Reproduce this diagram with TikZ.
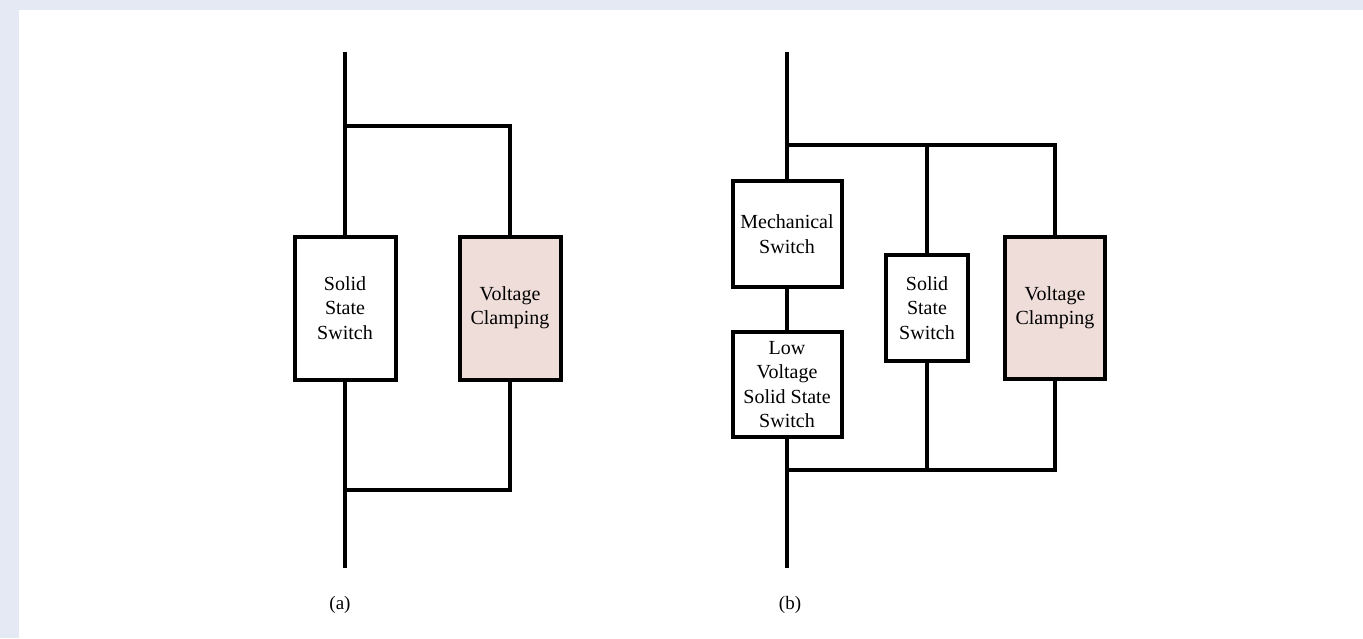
\documentclass[tikz,border=0pt]{standalone}
\usepackage{fontspec}
\setmainfont{Liberation Serif}
\definecolor{bgstrip}{RGB}{228,233,244}
\definecolor{clampfill}{RGB}{238,221,217}
\begin{document}
\begin{tikzpicture}[
    x=0.5pt, y=-0.5pt,
    wire/.style={line width=2pt},
    branch/.style={wire, line cap=rect},
    swbox/.style={draw, line width=2pt, fill=white, align=center,
        inner sep=1pt, font=\fontsize{10}{12.2}\selectfont},
    clampbox/.style={swbox, fill=clampfill},
    caption/.style={font=\fontsize{9.5}{11}\selectfont}
]
% Page and margins
\fill[bgstrip] (0,0) rectangle (1363,638);
\fill[white] (19,10) rectangle (1363,638);
\useasboundingbox (0,0) rectangle (1363,638);

% (a) wiring
\coordinate (atop) at (345,52);
\coordinate (aj1) at (345,126);
\coordinate (aj2) at (345,490);
\coordinate (abot) at (345,568);

% (a) blocks
\node[swbox, minimum width=101*0.5pt, minimum height=143*0.5pt] (sa) at (345,308) {Solid\\State\\Switch};
\node[clampbox, minimum width=101*0.5pt, minimum height=143*0.5pt] (ca) at (510,308) {Voltage\\Clamping};

\draw[wire] (atop) -- (sa.north);
\draw[wire] (sa.south) -- (abot);
\draw[branch] (aj1) -| (ca.north);
\draw[branch] (ca.south) |- (aj2);

\node[caption] (la) at (340,605) {(a)};

% (b) wiring
\coordinate (btop) at (787,52);
\coordinate (bj1) at (787,145);
\coordinate (bj2) at (787,470);
\coordinate (bbot) at (787,568);

% (b) blocks
\node[swbox, minimum width=109*0.5pt, minimum height=106*0.5pt] (mech) at (787,234) {Mechanical\\Switch};
\node[swbox, minimum width=109*0.5pt, minimum height=105*0.5pt] (lv) at (787,384.5) {Low\\Voltage\\Solid State\\Switch};
\node[swbox, minimum width=82*0.5pt, minimum height=106*0.5pt] (sb) at (927,308) {Solid\\State\\Switch};
\node[clampbox, minimum width=100*0.5pt, minimum height=142*0.5pt] (cb) at (1055,308) {Voltage\\Clamping};

\draw[wire] (btop) -- (mech.north);
\draw[wire] (mech.south) -- (lv.north);
\draw[wire] (lv.south) -- (bbot);
\draw[branch] (bj1) -| (cb.north);
\draw[branch] (cb.south) |- (bj2);
\draw[wire] (sb.north) -- (sb.north |- bj1);
\draw[wire] (sb.south) -- (sb.south |- bj2);

\node[caption] (lb) at (790,605) {(b)};
\end{tikzpicture}
\end{document}
